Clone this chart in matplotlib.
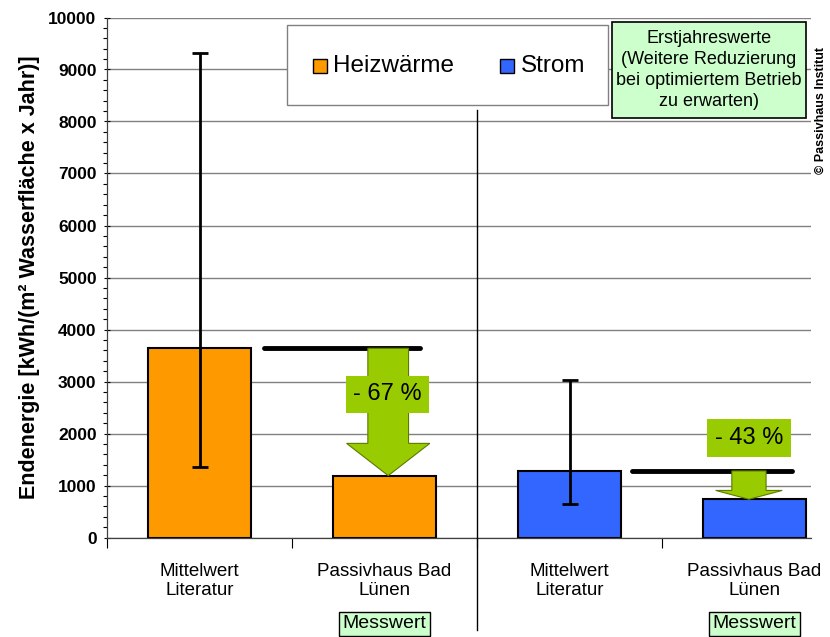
import matplotlib
matplotlib.use("Agg")
import matplotlib.pyplot as plt
from matplotlib.patches import Polygon, Rectangle
import numpy as np

plt.rcParams['font.family'] = ['Liberation Sans', 'DejaVu Sans']

# ---- data ----
categories = ["Mittelwert\nLiteratur", "Passivhaus Bad\nLünen",
              "Mittelwert\nLiteratur", "Passivhaus Bad\nLünen"]
series = ["Heizwärme", "Heizwärme", "Strom", "Strom"]
values = [3640, 1190, 1280, 735]
err_low = [1360, None, 640, None]
err_high = [9310, None, 3020, None]
reductions = ["- 67 %", "- 43 %"]
legend_labels = ["Heizwärme", "Strom"]
y_ticks = [0, 1000, 2000, 3000, 4000, 5000, 6000, 7000, 8000, 9000, 10000]
ylabel = "Endenergie [kWh/(m² Wasserfläche x Jahr)]"
note_text = "Erstjahreswerte\n(Weitere Reduzierung\nbei optimiertem Betrieb\nzu erwarten)"
copyright_text = "© Passivhaus Institut"

colors = {"Heizwärme": "#FF9900", "Strom": "#3366FF"}
GREEN = "#99CC00"
LIGHTGREEN = "#CCFFCC"

W, H = 830, 637
fig = plt.figure(figsize=(W / 100, H / 100), dpi=100)
ax_left, ax_right, ax_top, ax_bot = 107, 811, 17.5, 537.5
ax = fig.add_axes([ax_left / W, (H - ax_bot) / H, (ax_right - ax_left) / W, (ax_bot - ax_top) / H])
px_per_1000 = (ax_bot - ax_top) / 10.0

spacing = 185.0
x = np.arange(len(categories))
ax.set_xlim(-0.5, -0.5 + (ax_right - ax_left) / spacing)
ax.set_ylim(0, 10000)

# gridlines
ax.set_yticks(y_ticks)
ax.set_yticklabels([str(v) for v in y_ticks], fontweight='bold', fontsize=12.5)
ax.yaxis.grid(True, color='#808080', linewidth=1.0)
ax.set_axisbelow(True)
ax.set_yticks(np.arange(0, 10001, 200), minor=True)
ax.tick_params(axis='y', which='major', length=5, width=0.8, direction='inout', pad=5)
ax.tick_params(axis='y', which='minor', length=3, width=0.8, direction='out')

# bars
bar_colors = [colors[s] for s in series]
ax.bar(x, values, width=0.56, color=bar_colors, edgecolor='black', linewidth=1.5, zorder=2)

# error bars
for i in range(len(values)):
    if err_low[i] is not None:
        ax.errorbar(x[i], values[i],
                    yerr=[[values[i] - err_low[i]], [err_high[i] - values[i]]],
                    fmt='none', ecolor='black', elinewidth=2, capsize=5.5, capthick=2, zorder=3)

# x ticks
ax.set_xticks(x)
ax.set_xticklabels(categories, fontsize=13.5, linespacing=1.2)
ax.tick_params(axis='x', which='major', length=0, pad=18)
ax.set_xticks([-0.5, 0.5, 1.5, 2.5], minor=True)
ax.tick_params(axis='x', which='minor', length=7, width=0.8, direction='out')

for s in ['top', 'right']:
    ax.spines[s].set_visible(False)
for s in ['left', 'bottom']:
    ax.spines[s].set_color('#404040')
    ax.spines[s].set_linewidth(0.9)

ax.set_ylabel(ylabel, fontsize=15.5, fontweight='bold', labelpad=6)

# reference lines & arrows
def ref_arrow(i_from, i_to, xc, shaft_w, head_w, head_len, line_x0, line_x1):
    top = values[i_from]
    tip = values[i_to]
    ax.plot([line_x0, line_x1], [top, top], color='black', linewidth=3.5,
            solid_capstyle='round', zorder=4)
    hs = tip + head_len
    pts = [(xc - shaft_w / 2, top), (xc + shaft_w / 2, top), (xc + shaft_w / 2, hs),
           (xc + head_w / 2, hs), (xc, tip), (xc - head_w / 2, hs), (xc - shaft_w / 2, hs)]
    ax.add_patch(Polygon(pts, closed=True, facecolor=GREEN, edgecolor='#5C7A00',
                         linewidth=0.8, zorder=5))

ref_arrow(0, 1, 1.02, 0.22, 0.45, 620, 0.35, 1.19)
ref_arrow(2, 3, 2.97, 0.185, 0.36, 170, 2.34, 3.20)

ax.text(1.015, 2750, reductions[0], fontsize=17, ha='center', va='center', zorder=6,
        bbox=dict(boxstyle='square,pad=0.3', facecolor=GREEN, edgecolor='none'))
ax.text(2.97, 1905, reductions[1], fontsize=17, ha='center', va='center', zorder=6,
        bbox=dict(boxstyle='square,pad=0.34', facecolor=GREEN, edgecolor='none'))

# divider line between groups
ax.plot([1.5, 1.5], [(ax_bot - 110) / px_per_1000 * 1000, -(630 - ax_bot) / px_per_1000 * 1000],
        color='black', linewidth=1.0, clip_on=False, zorder=4)

# Messwert boxes
for xi in (1, 3):
    ax.text(x[xi], -(624 - ax_bot) / px_per_1000 * 1000, "Messwert", fontsize=14,
            ha='center', va='center', zorder=6, clip_on=False,
            bbox=dict(boxstyle='square,pad=0.2', facecolor=LIGHTGREEN,
                      edgecolor='black', linewidth=1.0))

# legend box (figure pixel coords)
def fig_rect(x0, y0, x1, y1, fc, ec, lw):
    r = Rectangle((x0 / W, 1 - y1 / H), (x1 - x0) / W, (y1 - y0) / H,
                  transform=fig.transFigure, facecolor=fc, edgecolor=ec, linewidth=lw,
                  zorder=10)
    fig.add_artist(r)

fig_rect(287, 25, 608, 105, 'white', '#808080', 1.0)
leg_y = 1 - 66 / H
for lab, sx, tx in zip(legend_labels, (313, 500), (333, 521)):
    fig_rect(sx, 59, sx + 14, 73, colors[lab], 'black', 1.0)
    fig.text(tx / W, leg_y, lab, fontsize=17.5, ha='left', va='center', zorder=11)

# note box
fig_rect(612, 22, 806, 118, LIGHTGREEN, 'black', 1.2)
fig.text(709 / W, 1 - 70 / H, note_text, fontsize=13, ha='center', va='center',
         linespacing=1.3, zorder=11)

# copyright
fig.text(821 / W, 1 - 110 / H, copyright_text, fontsize=9, fontweight='bold',
         rotation=90, ha='center', va='center')

fig.savefig("out.png", dpi=100)
